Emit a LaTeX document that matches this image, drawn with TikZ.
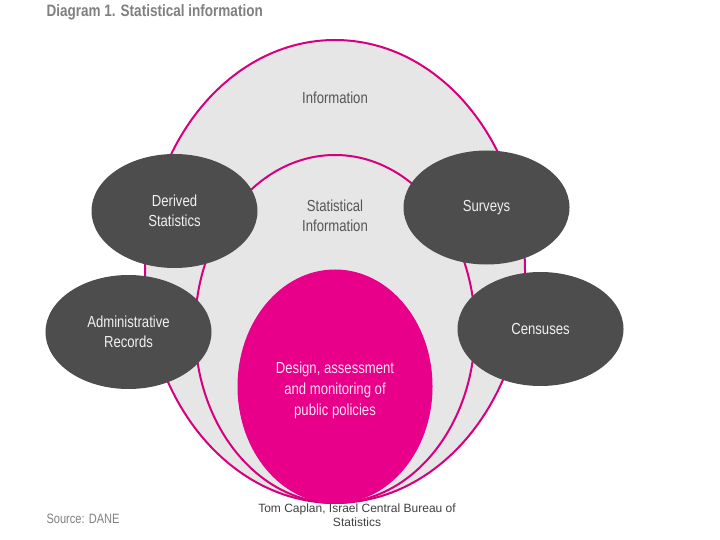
\documentclass[tikz,border=0pt]{standalone}
\usepackage{fontspec}
\setmainfont{Liberation Sans}
\newfontfamily\narrow[FakeStretch=0.82]{Liberation Sans}
\usetikzlibrary{shapes.geometric}
\definecolor{rimpink}{HTML}{D6007F}
\definecolor{fillpink}{HTML}{E8008A}
\definecolor{lightgrey}{HTML}{E6E6E6}
\definecolor{darkgrey}{HTML}{4D4D4D}
\definecolor{labelgrey}{HTML}{555555}
\tikzset{
  ring/.style={ellipse, draw=rimpink, line width=2bp, fill=lightgrey, inner sep=0pt},
  source/.style={ellipse, fill=darkgrey, inner sep=0pt, minimum width=166bp, minimum height=114bp,
    text=white!94!black, align=center, font=\narrow\fontsize{16bp}{20bp}\selectfont},
  ringlabel/.style={text=labelgrey, align=center, font=\narrow\fontsize{16bp}{20bp}\selectfont}
}
\begin{document}
\begin{tikzpicture}[x=1bp, y=-1bp]
  \useasboundingbox[fill=white] (0,0) rectangle (720,540);
  \node[anchor=west, text=gray, font=\narrow\bfseries\fontsize{16.5bp}{20bp}\selectfont] (title) at (43,12) {Diagram 1. Statistical information};
  \node[text=black!75, align=center, font=\fontsize{12bp}{14bp}\selectfont] (credit) at (357,515) {Tom Caplan, Israel Central Bureau of\\Statistics};
  % nested rings
  \node[ring, minimum width=380bp, minimum height=463bp] (info) at (335,271.5) {};
  \node[ring, minimum width=280bp, minimum height=348bp] (statinfo) at (335,329) {};
  \node[ellipse, fill=fillpink, draw=fillpink, line width=1bp, inner sep=0pt, minimum width=194bp, minimum height=233bp] (policy) at (335,386.5) {};
  \node[text=white!88!fillpink, align=center, font=\narrow\fontsize{16bp}{21bp}\selectfont, yshift=-3.5bp] (policylabel) at (policy.center)
    {Design, assessment\\and monitoring of\\public policies};
  \node[ringlabel] (infolabel) at (335,98) {Information};
  \node[ringlabel] (statlabel) at (335,216) {Statistical\\Information};
  % sources
  \node[source] (derived) at (174.5,211) {Derived\\Statistics};
  \node[source] (surveys) at (486.5,207.5) {Surveys};
  \node[source] (admin) at (128.5,332) {Administrative\\Records};
  \node[source] (census) at (540.5,329) {Censuses};
  \node[anchor=west, text=gray, font=\narrow\fontsize{13.5bp}{16bp}\selectfont] (dane) at (43,519) {Source: DANE};
\end{tikzpicture}
\end{document}
